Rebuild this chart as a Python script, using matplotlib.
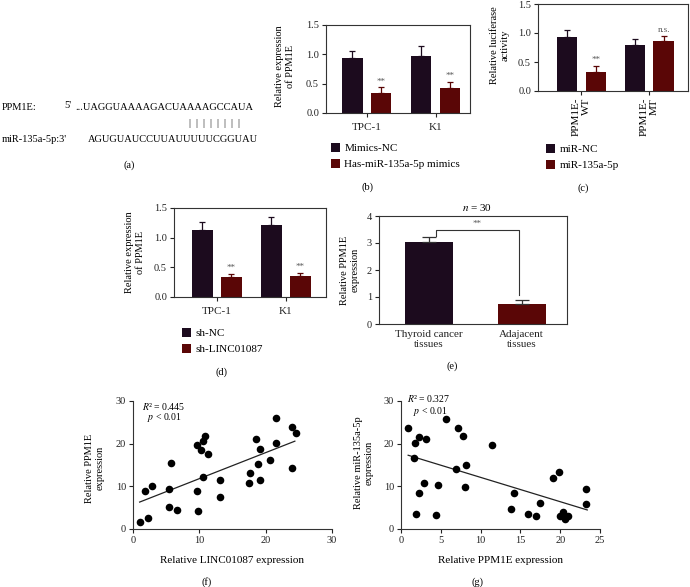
import matplotlib
matplotlib.use('Agg')
import matplotlib.pyplot as plt
import numpy as np

plt.rcParams['font.family'] = ['Liberation Serif', 'DejaVu Serif']
plt.rcParams['mathtext.fontset'] = 'stix'

# ---------------- data ----------------
b_groups = ['TPC-1', 'K1']
b_nc = [0.94, 0.98]
b_nc_err = [0.11, 0.16]
b_mim = [0.335, 0.43]
b_mim_err = [0.10, 0.10]
b_sig = ['**', '**']
b_legend = ['Mimics-NC', 'Has-miR-135a-5p mimics']

c_groups = ['PPM1E-\nWT', 'PPM1E-\nMT']
c_nc = [0.93, 0.80]
c_nc_err = [0.13, 0.10]
c_mir = [0.33, 0.86]
c_mir_err = [0.10, 0.08]
c_sig = ['**', 'n.s.']
c_legend = ['miR-NC', 'miR-135a-5p']

d_groups = ['TPC-1', 'K1']
d_nc = [1.13, 1.21]
d_nc_err = [0.14, 0.13]
d_sh = [0.33, 0.35]
d_sh_err = [0.05, 0.05]
d_sig = ['**', '**']
d_legend = ['sh-NC', 'sh-LINC01087']

e_cats = ['Thyroid cancer\ntissues', 'Adajacent\ntissues']
e_vals = [3.05, 0.75]
e_err = [0.16, 0.13]

f_x = [1.0, 2.2, 1.85, 2.9, 5.4, 5.5, 5.8, 6.7, 9.8, 9.7, 9.7, 10.2, 10.6, 10.8, 10.5,
       11.3, 13.1, 13.1, 17.5, 17.7, 18.5, 18.9, 19.2, 19.1, 20.7, 21.5, 21.6, 24.0, 24.6, 24.0]
f_y = [1.7, 2.6, 8.9, 10.0, 5.1, 9.3, 15.5, 4.4, 4.2, 8.8, 19.6, 18.5, 20.6, 21.8, 12.3,
       17.6, 11.5, 7.4, 10.7, 13.2, 21.0, 15.3, 18.7, 11.5, 16.2, 26.0, 20.2, 24.0, 22.4, 14.4]
f_fit = (0.61, 5.7)      # slope, intercept
f_fit_range = (1.0, 24.4)

g_x = [0.9, 1.7, 1.6, 2.3, 3.1, 1.9, 2.3, 2.9, 4.4, 4.7, 5.6, 7.1, 7.8, 6.9, 8.2,
       8.1, 11.4, 13.8, 14.2, 16.0, 16.9, 17.4, 19.1, 19.8, 20.0, 20.3, 20.6, 21.0, 23.2, 23.2]
g_y = [23.6, 20.1, 16.7, 21.6, 21.0, 3.5, 8.5, 10.7, 3.3, 10.4, 25.8, 23.6, 21.8, 14.0, 15.0,
       9.9, 19.6, 4.8, 8.5, 3.5, 3.1, 6.1, 12.0, 13.3, 3.1, 4.0, 2.3, 3.0, 9.4, 5.8]
g_fit = (-0.57, 17.8)
g_fit_range = (0.9, 23.4)

C_DARK = '#1c0b1e'
C_RED = '#5a0606'
SPINE = '#333333'

W, H = 690, 587
fig = plt.figure(figsize=(W / 100, H / 100), dpi=100)


def rect(x0, y0, x1, y1):
    return [x0 / W, 1 - y1 / H, (x1 - x0) / W, (y1 - y0) / H]


def ftext(x, y, s, **kw):
    kw.setdefault('fontsize', 7.5)
    fig.text(x / W, 1 - y / H, s, **kw)


def style(ax, box=True):
    for sp in ax.spines.values():
        sp.set_linewidth(0.8)
        sp.set_color(SPINE)
    if not box:
        ax.spines['top'].set_visible(False)
        ax.spines['right'].set_visible(False)
    ax.tick_params(direction='out', length=3, width=0.8, labelsize=7.5, colors='#222222', pad=2)


def grouped(ax, groups, v1, e1, v2, e2, sig, off=0.21, w=0.3):
    x = np.arange(len(groups))
    b1 = ax.bar(x - off, v1, w, color=C_DARK, yerr=[np.zeros(len(v1)), e1],
                error_kw=dict(ecolor=C_DARK, capsize=2, elinewidth=0.9, capthick=0.9), zorder=2)
    b2 = ax.bar(x + off, v2, w, color=C_RED, yerr=[np.zeros(len(v2)), e2],
                error_kw=dict(ecolor=C_RED, capsize=2, elinewidth=0.9, capthick=0.9), zorder=2)
    for xi, v, e, s in zip(x + off, v2, e2, sig):
        ax.annotate(s, (xi, v + e), xytext=(0, 1.5), textcoords='offset points',
                    ha='center', va='bottom', fontsize=6.5, color='#555555')
    ax.set_xticks(x)
    return b1, b2


def legend(ax, handles, labels, x, y):
    ax.legend(handles, labels, loc='upper left', bbox_to_anchor=(x / W, 1 - y / H),
              bbox_transform=fig.transFigure, frameon=False, fontsize=8,
              handlelength=0.8, handleheight=0.8, handletextpad=0.4,
              labelspacing=0.55, borderpad=0, borderaxespad=0)


# ---------------- (a) ----------------
ftext(2, 108, 'PPM1E:', ha='left', va='center')
ftext(64, 106, "5'", ha='left', va='center')
ftext(75, 108, '...UAGGUAAAAGACUAAAAGCCAUA', ha='left', va='center')
ftext(214, 124, '|  |  |  |  |  |  |  |', ha='center', va='center', fontsize=7)
ftext(2, 139, "miR-135a-5p:3'", ha='left', va='center')
ftext(88, 139, 'AGUGUAUCCUUAUUUUUCGGUAU', ha='left', va='center')
ftext(129, 165, '(a)', ha='center', va='center')

# ---------------- (b) ----------------
ax = fig.add_axes(rect(326, 25, 470, 113))
style(ax)
h = grouped(ax, b_groups, b_nc, b_nc_err, b_mim, b_mim_err, b_sig)
ax.set_xticklabels(b_groups, fontsize=8)
ax.tick_params(axis='x', pad=4)
ax.set_xlim(-0.59, 1.5)
ax.set_ylim(0, 1.5)
ax.set_yticks([0, 0.5, 1.0, 1.5])
ax.set_yticklabels(['0.0', '0.5', '1.0', '1.5'])
legend(ax, h, b_legend, 331, 143)
ftext(285, 66, 'Relative expression\nof PPM1E', rotation=90, ha='center', va='center')
ftext(368, 187, '(b)', ha='center', va='center')

# ---------------- (c) ----------------
ax = fig.add_axes(rect(538, 4, 688, 91))
style(ax)
h = grouped(ax, c_groups, c_nc, c_nc_err, c_mir, c_mir_err, c_sig)
ax.set_xticklabels([])
ax.set_xlim(-0.64, 1.57)
ax.set_ylim(0, 1.5)
ax.set_yticks([0, 0.5, 1.0, 1.5])
ax.set_yticklabels(['0.0', '0.5', '1.0', '1.5'])
for i, lab in enumerate(c_groups):
    ax.annotate(lab, (i, 0), xytext=(0, -5), textcoords='offset points', xycoords='data',
                rotation=90, ha='center', va='top', multialignment='right', fontsize=8)
legend(ax, h, c_legend, 546, 144)
ftext(500, 45, 'Relative luciferase\nactivity', rotation=90, ha='center', va='center')
ftext(583, 188, '(c)', ha='center', va='center')

# ---------------- (d) ----------------
ax = fig.add_axes(rect(174, 208, 326, 297))
style(ax)
h = grouped(ax, d_groups, d_nc, d_nc_err, d_sh, d_sh_err, d_sig)
ax.set_xticklabels(d_groups, fontsize=8)
ax.tick_params(axis='x', pad=4)
ax.set_xlim(-0.62, 1.58)
ax.set_ylim(0, 1.5)
ax.set_yticks([0, 0.5, 1.0, 1.5])
ax.set_yticklabels(['0.0', '0.5', '1.0', '1.5'])
legend(ax, h, d_legend, 182, 328)
ftext(135, 252, 'Relative expression\nof PPM1E', rotation=90, ha='center', va='center')
ftext(222, 372, '(d)', ha='center', va='center')

# ---------------- (e) ----------------
ax = fig.add_axes(rect(379, 216, 567, 324))
style(ax)
xe = np.arange(len(e_cats))
ax.bar(xe, e_vals, 0.52, color=[C_DARK, C_RED], yerr=[np.zeros(2), e_err],
       error_kw=dict(ecolor=SPINE, capsize=5, elinewidth=0.9, capthick=0.9), zorder=2)
ax.set_xticks(xe)
ax.set_xticklabels(e_cats, fontsize=8)
ax.tick_params(axis='x', length=0, pad=4)
ax.set_xlim(-0.54, 1.49)
ax.set_ylim(0, 4)
ax.set_yticks([0, 1, 2, 3, 4])
top = 3.5
ax.plot([xe[0] + 0.08, xe[0] + 0.08, xe[1] - 0.03, xe[1] - 0.03],
        [e_vals[0] + e_err[0] + 0.05, top, top, e_vals[1] + e_err[1] + 0.2],
        color=SPINE, lw=0.8)
ax.text(0.52, top + 0.06, '**', ha='center', va='bottom', fontsize=6.5, color='#555555')
ax.text(0.52, 4.12, r'$n$ = 30', ha='center', va='bottom', fontsize=8)
ftext(350, 270, 'Relative PPM1E\nexpression', rotation=90, ha='center', va='center')
ftext(452, 366, '(e)', ha='center', va='center')

# ---------------- (f) ----------------
ax = fig.add_axes(rect(133, 401, 332, 529))
style(ax, box=False)
ax.scatter(f_x, f_y, s=30, color='black', zorder=3, linewidths=0)
xs = np.array(f_fit_range)
ax.plot(xs, f_fit[0] * xs + f_fit[1], color='#222222', lw=0.9)
ax.set_xlim(0, 30)
ax.set_ylim(0, 30)
ax.set_xticks([0, 10, 20, 30])
ax.set_yticks([0, 10, 20, 30])
ax.set_xlabel('Relative LINC01087 expression', fontsize=8, labelpad=8)
ftext(142, 406, r'$R$² = 0.445', ha='left', va='center', fontsize=7)
ftext(147, 418, r'$p$ < 0.01', ha='left', va='center', fontsize=7)
ftext(95, 468, 'Relative PPM1E\nexpression', rotation=90, ha='center', va='center')
ftext(207, 582, '(f)', ha='center', va='center')

# ---------------- (g) ----------------
ax = fig.add_axes(rect(401, 401, 600, 529))
style(ax, box=False)
ax.scatter(g_x, g_y, s=30, color='black', zorder=3, linewidths=0)
xs = np.array(g_fit_range)
ax.plot(xs, g_fit[0] * xs + g_fit[1], color='#222222', lw=0.9)
ax.set_xlim(0, 25)
ax.set_ylim(0, 30)
ax.set_xticks([0, 5, 10, 15, 20, 25])
ax.set_yticks([0, 10, 20, 30])
ax.set_xlabel('Relative PPM1E expression', fontsize=8, labelpad=8)
ftext(407, 399, r'$R$² = 0.327', ha='left', va='center', fontsize=7)
ftext(413, 411, r'$p$ < 0.01', ha='left', va='center', fontsize=7)
ftext(364, 463, 'Relative miR-135a-5p\nexpression', rotation=90, ha='center', va='center')
ftext(477, 582, '(g)', ha='center', va='center')

fig.savefig('out.png', dpi=100)
